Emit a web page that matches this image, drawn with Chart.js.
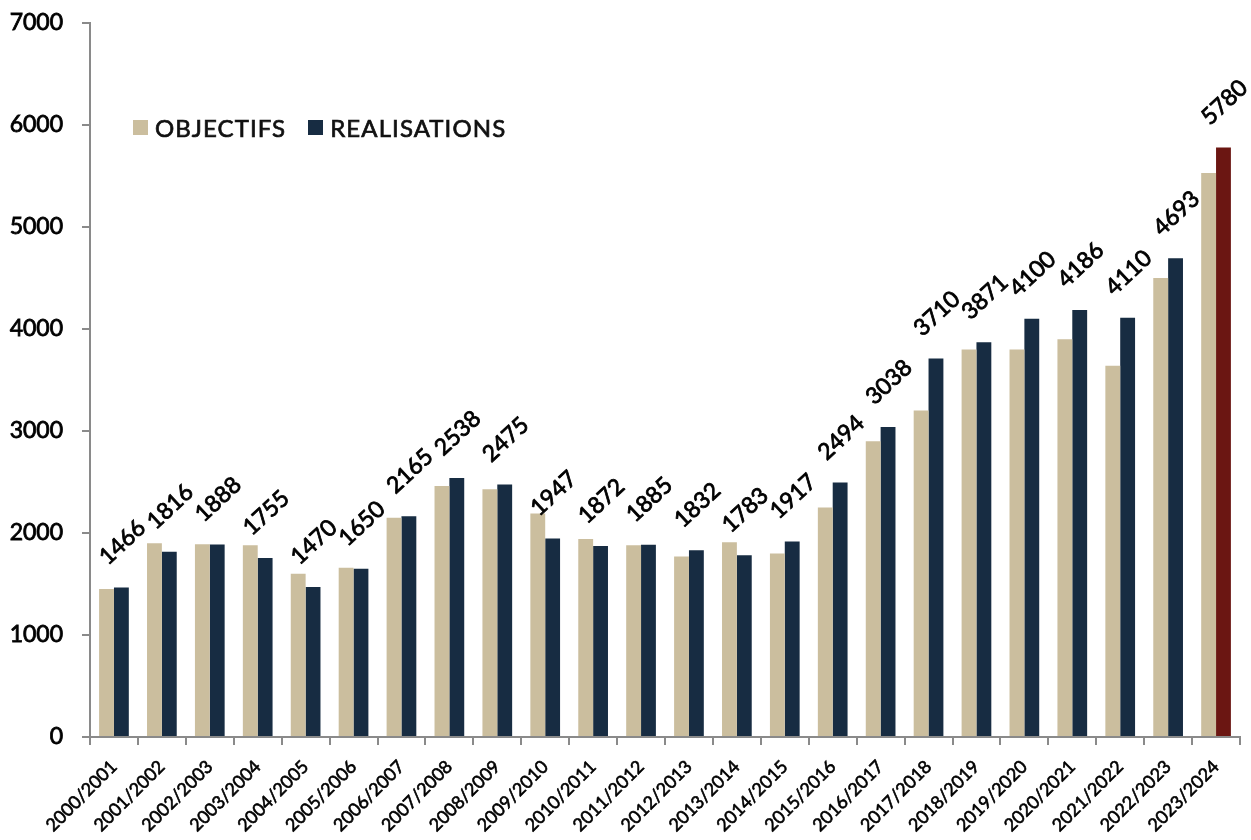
<!DOCTYPE html>
<html lang="fr">
<head>
    <meta charset="UTF-8">
    <title>Objectifs et réalisations</title>
    <script src="https://cdn.jsdelivr.net/npm/chart.js"></script>
    <style>
        body {
            margin: 0;
            background: #fff;
            font-family: Lato, Roboto, Arial, sans-serif;
        }

        .wrap {
            position: relative;
            width: 1251px;
            height: 840px;
        }

        .legend {
            position: absolute;
            left: 133px;
            top: 113px;
            display: flex;
            align-items: center;
            font-size: 24px;
            color: #111;
            letter-spacing: 1.1px;
            -webkit-text-stroke: 0.7px #111;
        }

        .legend span.box {
            display: inline-block;
            width: 15px;
            height: 15px;
            margin-right: 7px;
        }

        .legend .item {
            display: flex;
            align-items: center;
            margin-right: 22px;
        }
    </style>
</head>
<body>
    <div class="wrap">
        <canvas id="chart"></canvas>
        <div class="legend">
            <div class="item"><span class="box" style="background:#cbbe9e"></span>OBJECTIFS</div>
            <div class="item"><span class="box" style="background:#172c42"></span>REALISATIONS</div>
        </div>
    </div>

    <script>
        const categories = ['2000/2001', '2001/2002', '2002/2003', '2003/2004', '2004/2005', '2005/2006',
            '2006/2007', '2007/2008', '2008/2009', '2009/2010', '2010/2011', '2011/2012', '2012/2013',
            '2013/2014', '2014/2015', '2015/2016', '2016/2017', '2017/2018', '2018/2019', '2019/2020',
            '2020/2021', '2021/2022', '2022/2023', '2023/2024'];
        const objectifs = [1450, 1900, 1890, 1880, 1600, 1660, 2150, 2460, 2430, 2190, 1940, 1880,
            1770, 1910, 1800, 2250, 2900, 3200, 3800, 3800, 3900, 3640, 4500, 5530];
        const realisations = [1466, 1816, 1888, 1755, 1470, 1650, 2165, 2538, 2475, 1947, 1872, 1885,
            1832, 1783, 1917, 2494, 3038, 3710, 3871, 4100, 4186, 4110, 4693, 5780];
        const yMax = 7000;
        const yStep = 1000;

        const beige = '#cbbe9e';
        const navy = '#172c42';
        const red = '#6b1612';
        const axisGrey = '#8a8a8a';
        const fontFamily = 'Lato, Roboto, Arial, sans-serif';

        const realColors = realisations.map((v, i) => i === realisations.length - 1 ? red : navy);

        // value labels above the realisation bars, tilted
        const valueLabels = {
            id: 'valueLabels',
            afterDatasetsDraw(chart) {
                const ctx = chart.ctx;
                const meta = chart.getDatasetMeta(1);
                ctx.save();
                ctx.font = '23px ' + fontFamily;
                ctx.fillStyle = '#000';
                ctx.strokeStyle = '#000';
                ctx.lineWidth = 0.8;
                ctx.textAlign = 'center';
                ctx.textBaseline = 'middle';
                meta.data.forEach((bar, i) => {
                    ctx.save();
                    ctx.translate(bar.x + 1, bar.y - 45);
                    ctx.rotate(-43 * Math.PI / 180);
                    ctx.fillText(String(realisations[i]), 0, 0);
                    ctx.strokeText(String(realisations[i]), 0, 0);
                    ctx.restore();
                });
                ctx.restore();
            }
        };

        new Chart(document.getElementById('chart'), {
            type: 'bar',
            data: {
                labels: categories,
                datasets: [
                    {
                        label: 'OBJECTIFS',
                        data: objectifs,
                        backgroundColor: beige,
                        categoryPercentage: 0.62,
                        barPercentage: 1.0
                    },
                    {
                        label: 'REALISATIONS',
                        data: realisations,
                        backgroundColor: realColors,
                        categoryPercentage: 0.62,
                        barPercentage: 1.0
                    }
                ]
            },
            options: {
                responsive: true,
                maintainAspectRatio: false,
                animation: false,
                layout: {
                    padding: { top: 23, right: 11, left: 0, bottom: 0 }
                },
                plugins: {
                    legend: { display: false },
                    tooltip: { enabled: false }
                },
                scales: {
                    x: {
                        grid: {
                            drawOnChartArea: false,
                            drawTicks: true,
                            tickLength: 8,
                            color: axisGrey,
                            lineWidth: 2
                        },
                        border: { display: true, color: axisGrey, width: 2 },
                        ticks: {
                            color: '#000',
                            font: { family: fontFamily, size: 18 },
                            textStrokeColor: '#000',
                            textStrokeWidth: 0.6,
                            minRotation: 45,
                            maxRotation: 45,
                            padding: 11,
                            autoSkip: false
                        },
                        afterFit(scale) {
                            scale.height = 103;
                            scale.paddingTop = 0;
                        }
                    },
                    y: {
                        min: 0,
                        max: yMax,
                        grid: {
                            drawOnChartArea: false,
                            drawTicks: true,
                            tickLength: 8,
                            color: axisGrey,
                            lineWidth: 2
                        },
                        border: { display: true, color: axisGrey, width: 2 },
                        ticks: {
                            stepSize: yStep,
                            color: '#000',
                            font: { family: fontFamily, size: 23 },
                            textStrokeColor: '#000',
                            textStrokeWidth: 0.8,
                            padding: 19,
                            callback: (v) => String(v)
                        },
                        afterFit(scale) {
                            scale.width = 90;
                            scale.paddingTop = 0;
                        }
                    }
                }
            },
            plugins: [valueLabels]
        });
    </script>
</body>
</html>
